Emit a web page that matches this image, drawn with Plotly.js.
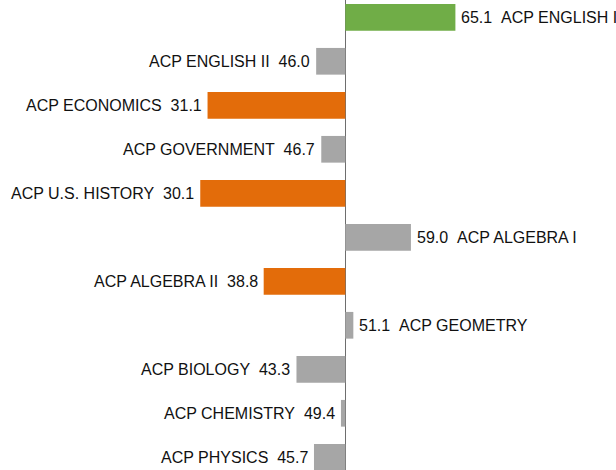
<!DOCTYPE html>
<html>
<head>
<meta charset="utf-8">
<script src="https://cdn.plot.ly/plotly-3.0.1.min.js"></script>
<style>html,body{margin:0;padding:0;background:#fff;}#chart{width:616px;height:470px;}</style>
</head>
<body>
<div id="chart"></div>
<script>
const courses = ["ACP ENGLISH I","ACP ENGLISH II","ACP ECONOMICS","ACP GOVERNMENT","ACP U.S. HISTORY","ACP ALGEBRA I","ACP ALGEBRA II","ACP GEOMETRY","ACP BIOLOGY","ACP CHEMISTRY","ACP PHYSICS"];
const scores = [65.1, 46.0, 31.1, 46.7, 30.1, 59.0, 38.8, 51.1, 43.3, 49.4, 45.7];
const groups = ["high","mid","low","mid","low","mid","low","mid","mid","mid","mid"];
const BASE = 50;
const groupColors = {high:"#70AD47", mid:"#A6A6A6", low:"#E36C0A"};

const NBSP = "\u00A0";
const annotations = courses.map((c, i) => {
  const v = scores[i];
  const above = v >= BASE;
  return {
    x: v, y: c, xref: "x", yref: "y",
    text: above ? v.toFixed(1) + NBSP + NBSP + c : c + NBSP + NBSP + v.toFixed(1),
    showarrow: false,
    xanchor: above ? "left" : "right",
    yanchor: "middle",
    xshift: above ? 4 : -4,
    font: {family: "'Liberation Sans', Arial, sans-serif", size: 16, color: "#111111"}
  };
});

const trace = {
  type: "bar",
  orientation: "h",
  y: courses,
  x: scores.map(v => v - BASE),
  base: BASE,
  marker: {color: groups.map(g => groupColors[g]), line: {width: 0}},
  hoverinfo: "skip"
};

const layout = {
  width: 616, height: 470,
  margin: {l: 0, r: 0, t: 0, b: 0, pad: 0},
  paper_bgcolor: "#ffffff", plot_bgcolor: "#ffffff",
  showlegend: false,
  bargap: 0.393,
  xaxis: {
    range: [2.63, 87.13],
    tickvals: [BASE],
    showticklabels: false,
    ticks: "",
    showgrid: true, gridcolor: "#6e6e6e", gridwidth: 1,
    zeroline: false, showline: false, fixedrange: true
  },
  yaxis: {
    type: "category",
    categoryorder: "array", categoryarray: courses,
    range: [10.289, -0.393],
    showticklabels: false, ticks: "", showgrid: false, zeroline: false, showline: false
  },
  annotations: annotations
};

Plotly.newPlot("chart", [trace], layout, {staticPlot: true, displayModeBar: false});
</script>
</body>
</html>
